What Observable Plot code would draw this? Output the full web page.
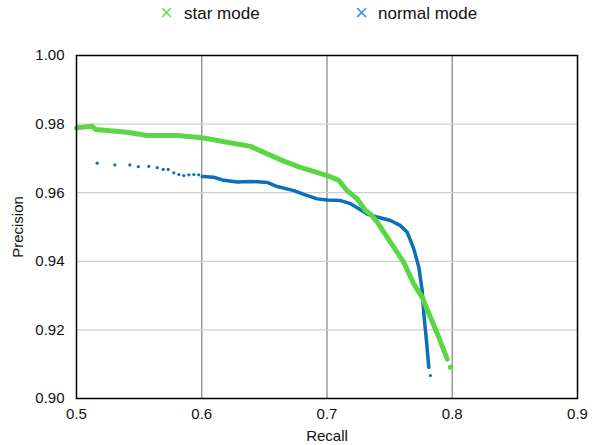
<!DOCTYPE html>
<html>
<head>
<meta charset="utf-8">
<script src="https://cdn.jsdelivr.net/npm/d3@7"></script>
<script src="https://cdn.jsdelivr.net/npm/@observablehq/plot@0.6"></script>
<style>
  html, body { margin: 0; padding: 0; background: #fff; }
  body { width: 603px; height: 445px; overflow: hidden; font-family: "Liberation Sans", Arial, Helvetica, sans-serif; }
  #legend { position: relative; height: 30px; font-size: 17px; color: #111; }
  #legend span { position: absolute; top: 4px; line-height: 20px; white-space: nowrap; }
  #chart svg { display: block; }
</style>
</head>
<body>
<div id="legend"></div>
<div id="chart"></div>
<script>
// ---- data ----
const seriesNames = ["star mode", "normal mode"];
const seriesColors = ["#5cd646", "#0b70b8"];
const legendColors = ["#6fdc5e", "#3a98d6"];

const starRecall = [0.500, 0.5125, 0.5152, 0.5405, 0.5564, 0.5804, 0.6004, 0.6203, 0.6389, 0.6655, 0.6788, 0.7002, 0.7094, 0.7161, 0.7241, 0.7307, 0.7347, 0.7401, 0.7481, 0.7533, 0.7613, 0.7693, 0.7760, 0.7826, 0.7893, 0.7960];
const starPrecision = [0.9789, 0.9794, 0.9784, 0.9776, 0.9767, 0.9767, 0.9760, 0.9747, 0.9735, 0.9692, 0.9674, 0.9650, 0.9636, 0.9606, 0.9582, 0.9548, 0.9538, 0.9514, 0.9470, 0.9441, 0.9397, 0.9334, 0.9295, 0.9237, 0.9178, 0.9115];
const starSparseRecall = [0.7986];
const starSparsePrecision = [0.9091];

const normalRecall = [0.6004, 0.6096, 0.6176, 0.6283, 0.6389, 0.6523, 0.6602, 0.6735, 0.6815, 0.6922, 0.7002, 0.7108, 0.7188, 0.7241, 0.7321, 0.7401, 0.7507, 0.7587, 0.7640, 0.7693, 0.7733, 0.7760, 0.7773, 0.7794, 0.7813];
const normalPrecision = [0.9647, 0.9645, 0.9636, 0.9631, 0.9633, 0.9630, 0.9618, 0.9606, 0.9595, 0.9582, 0.9579, 0.9577, 0.9568, 0.9556, 0.9538, 0.9529, 0.9519, 0.9504, 0.9485, 0.9436, 0.9383, 0.9315, 0.9247, 0.9169, 0.9091];
const normalSparseRecall = [0.5165, 0.5306, 0.5426, 0.5493, 0.5577, 0.5644, 0.5692, 0.5732, 0.5777, 0.5817, 0.5857, 0.5897, 0.5937, 0.5976, 0.7826];
const normalSparsePrecision = [0.9686, 0.9681, 0.9681, 0.9676, 0.9677, 0.9673, 0.9668, 0.9668, 0.9658, 0.9653, 0.9650, 0.9652, 0.9653, 0.9652, 0.9067];

const xTicks = [0.5, 0.6, 0.7, 0.8, 0.9];
const yTicks = [0.90, 0.92, 0.94, 0.96, 0.98, 1.00];

// ---- build tables ----
const zip = (xs, ys) => xs.map((x, i) => ({recall: x, precision: ys[i]}));
const star = zip(starRecall, starPrecision);
const starSparse = zip(starSparseRecall, starSparsePrecision);
const normal = zip(normalRecall, normalPrecision);
const normalSparse = zip(normalSparseRecall, normalSparsePrecision);

// ---- legend ----
const legend = document.getElementById("legend");
const legendPos = [[160, 184], [355, 378]];
seriesNames.forEach((name, i) => {
  const m = document.createElement("span");
  m.textContent = "×";
  m.style.left = legendPos[i][0] + "px";
  m.style.color = legendColors[i];
  m.style.fontSize = "22px";
  m.style.top = "3px";
  legend.appendChild(m);
  const t = document.createElement("span");
  t.textContent = name;
  t.style.left = legendPos[i][1] + "px";
  legend.appendChild(t);
});

// ---- chart ----
const chart = Plot.plot({
  width: 603,
  height: 415,
  marginTop: 25,
  marginBottom: 47,
  marginLeft: 76,
  marginRight: 26,
  style: {fontFamily: "Liberation Sans, Arial, Helvetica, sans-serif", fontSize: "15px", color: "#111", background: "#fff"},
  x: {domain: [0.5, 0.9]},
  y: {domain: [0.90, 1.00]},
  marks: [
    Plot.gridX([0.6, 0.7, 0.8], {stroke: "#8c8c8c", strokeOpacity: 1, strokeWidth: 1.3}),
    Plot.gridY([0.92, 0.94, 0.96, 0.98], {stroke: "#cfcfcf", strokeOpacity: 1, strokeWidth: 1.2}),
    Plot.line(normal, {x: "recall", y: "precision", stroke: seriesColors[1], strokeWidth: 3.5}),
    Plot.dot(normalSparse, {x: "recall", y: "precision", fill: seriesColors[1], r: 1.6}),
    Plot.line(star, {x: "recall", y: "precision", stroke: seriesColors[0], strokeWidth: 5}),
    Plot.dot(starSparse, {x: "recall", y: "precision", fill: seriesColors[0], r: 2.6}),
    Plot.frame({stroke: "#000", strokeWidth: 1.5}),
    Plot.axisX(xTicks, {tickSize: 0, tickPadding: 10, tickFormat: d3.format(".1f"), fontSize: 15,
      label: "Recall", labelAnchor: "center", labelArrow: "none", labelOffset: 42}),
    Plot.axisY(yTicks, {tickSize: 0, tickPadding: 12, tickFormat: d3.format(".2f"), fontSize: 15,
      label: "Precision", labelAnchor: "center", labelArrow: "none", labelOffset: 64})
  ]
});
document.getElementById("chart").appendChild(chart);
</script>
</body>
</html>
